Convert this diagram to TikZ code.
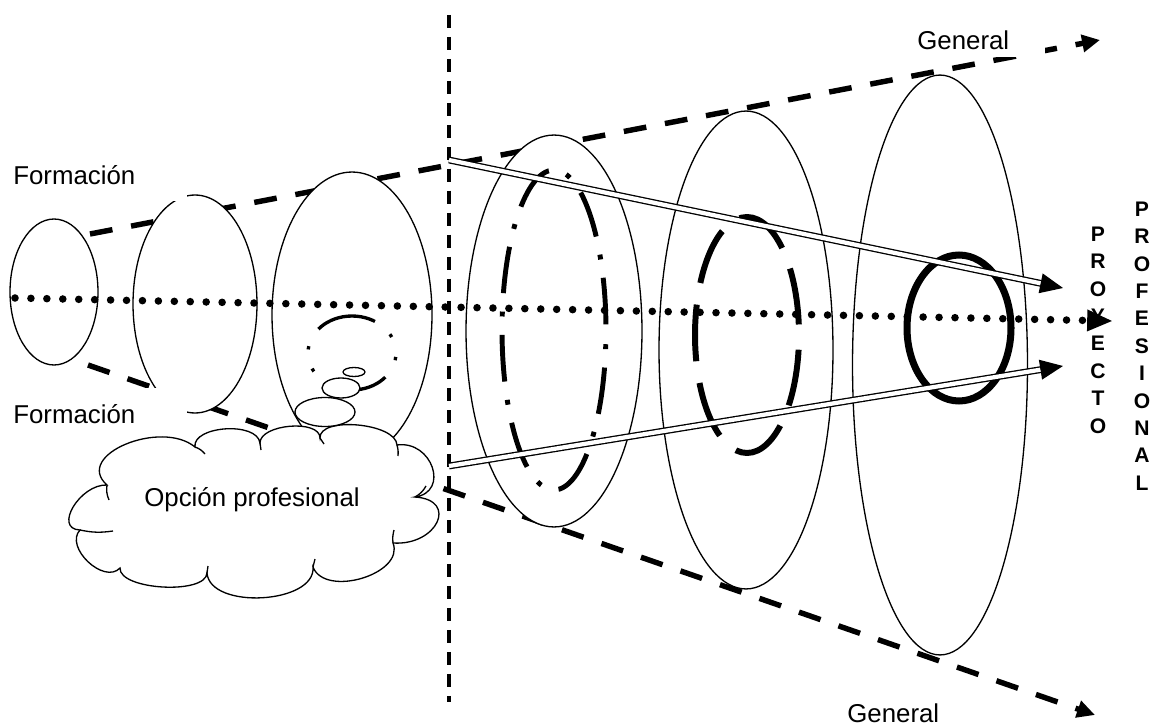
\documentclass[tikz,border=0pt]{standalone}
\usepackage{fontspec}
\setmainfont{Liberation Sans}
\usetikzlibrary{shapes.geometric,arrows.meta}
\begin{document}
\begin{tikzpicture}[x=0.02cm,y=-0.02cm,
  lbl/.style={font=\fontsize{14.7pt}{17pt}\selectfont},
  textbox/.style={lbl, fill=white, anchor=west, inner ysep=0pt, align=left},
  ring/.style={ellipse, draw, line width=0.75pt, fill=white, inner sep=0pt},
  bubble/.style={ellipse, draw, line width=0.75pt, fill=white, inner sep=0pt},
  thin/.style={line width=0.75pt},
  spine/.style={line width=1.9pt, dash pattern=on 7.4pt off 5.1pt},
  cone/.style={line width=3.1pt, dash pattern=on 13pt off 10.8pt,
    -{Triangle[length=10.2pt,width=9.6pt]}},
  axis/.style={line width=4.3pt, line cap=round, dash pattern=on 0pt off 9.07pt,
    -{Triangle[length=14.7pt,width=11.3pt]}},
  rail/.style={line width=0.75pt, double=white, double distance=2.4pt,
    -{Triangle[length=13pt,width=11.3pt]}},
  vword/.style={font=\fontsize{12pt}{15.6pt}\selectfont\bfseries, align=center, inner sep=0pt}
]
\useasboundingbox (0,0) rectangle (1153,726);

% reference points
\coordinate (vtop) at (449,15);
\coordinate (vbot) at (449,702);
\coordinate (cu0) at (90,234);
\coordinate (cu1) at (1100,40);
\coordinate (cl0) at (88,365);
\coordinate (cl1) at (1095,715);
\coordinate (d0) at (15,298);
\coordinate (d1) at (1113,321);
\coordinate (du0) at (449,160);
\coordinate (du1) at (1063,288);
\coordinate (dl0) at (449,466);
\coordinate (dl1) at (1063,366);

% vertical divider and the widening cone
\draw[spine] (vtop) -- (vbot);
\draw[cone] (cu0) -- (cu1);
\draw[cone] (cl0) -- (cl1);

% growing sections
\node[ring, minimum width=1.76cm, minimum height=2.92cm] (e1) at (54,292) {};
\node[ring, minimum width=2.48cm, minimum height=4.36cm] (e2) at (195,304) {};
\node[ring, minimum width=3.2cm, minimum height=5.72cm] (e3) at (352,315) {};
\node[ring, minimum width=3.52cm, minimum height=7.84cm] (e4) at (554,331) {};
\node[ring, minimum width=3.48cm, minimum height=9.56cm] (e5) at (746,350) {};
\node[ring, minimum width=3.5cm, minimum height=11.6cm] (e6) at (940,365) {};

% labels
\node[textbox, text width=3.22cm, inner xsep=0.26cm, minimum height=1.04cm] (f1) at (0,175) {Formación};
\node[textbox, text width=3.22cm, inner xsep=0.26cm, minimum height=1.04cm] (f2) at (0,414) {Formación};
\node[textbox, text width=2.32cm, inner xsep=0.24cm, minimum height=0.7cm] (g1) at (905,40) {General};
\node[textbox, text width=2.32cm, inner xsep=0.24cm, minimum height=0.7cm] (g2) at (835,713) {General};

% inner profiles
\node[ellipse, draw, line width=1.9pt, inner sep=0pt, minimum width=1.76cm, minimum height=1.48cm,
  dash pattern=on 34.6pt off 11.3pt on 1.9pt off 11.3pt on 1.9pt off 11.3pt, dash phase=49.6pt] (i3) at (352,353) {};
\node[ellipse, draw, line width=2.8pt, inner sep=0pt, minimum width=2.08cm, minimum height=6.4cm,
  dash pattern=on 26.6pt off 10.5pt on 2.8pt off 10.5pt, dash phase=47.2pt] (i4) at (554,330) {};
\node[ellipse, draw, line width=3.4pt, inner sep=0pt, minimum width=2.08cm, minimum height=4.72cm,
  dash pattern=on 32.3pt off 12.5pt, dash phase=38.8pt] (i5) at (747,335) {};
\node[ellipse, draw, line width=4pt, inner sep=0pt, minimum width=2.08cm, minimum height=2.92cm] (i6) at (959,328) {};

% thought cloud, puff by puff
\coordinate (j1) at (107,485);
\coordinate (j2) at (195,447);
\coordinate (j3) at (260,443);
\coordinate (j4) at (320,438);
\coordinate (j5) at (397,445);
\coordinate (j6) at (415,497);
\coordinate (j7) at (393,543);
\coordinate (j8) at (313,567);
\coordinate (j9) at (207,573);
\coordinate (j10) at (120,568);
\coordinate (j11) at (80,530);
\draw[thin, fill=white] (j1)
  .. controls (73,455) and (161,419) .. (j2)
  .. controls (192,426) and (257,421) .. (j3)
  .. controls (260,424) and (320,419) .. (j4)
  .. controls (319,416) and (396,423) .. (j5)
  .. controls (432,440) and (450,492) .. (j6)
  .. controls (459,500) and (437,546) .. (j7)
  .. controls (405,574) and (325,598) .. (j8)
  .. controls (316,604) and (210,610) .. (j9)
  .. controls (206,595) and (119,590) .. (j10)
  .. controls (104,585) and (64,547) .. (j11)
  .. controls (53,529) and (80,484) .. (j1) -- cycle;
% short puff seams inside the outline
\draw[thin] (j1) to[bend right=15] (109,500);
\draw[thin] (j2) to[bend left=15] (205,454);
\draw[thin] (j3) -- (261,450);
\draw[thin] (j4) to[bend left=10] (324,444);
\draw[thin] (j5) to[bend left=10] (398,456);
\draw[thin] (j6) to[bend right=15] (426,486);
\draw[thin] (j7) to[bend left=10] (394,530);
\draw[thin] (j8) -- (315,559);
\draw[thin] (j9) -- (208,566);
\draw[thin] (j11) to[bend right=10] (113,531);
\node[lbl] (opt) at (252,500) {Opción profesional};

% thought bubbles
\node[bubble, minimum width=1.2cm, minimum height=0.58cm] (b1) at (325,412) {};
\node[bubble, minimum width=0.76cm, minimum height=0.4cm] (b2) at (341,388) {};
\node[bubble, minimum width=0.44cm, minimum height=0.18cm] (b3) at (354,372) {};

% converging rails
\draw[rail] (du0) -- (du1);
\draw[rail] (dl0) -- (dl1);

% vertical words
\node[vword] (w1) at (1098,330) {P\\R\\O\\Y\\E\\C\\T\\O};
\node[vword] (w2) at (1142,346) {P\\R\\O\\F\\E\\S\\I\\O\\N\\A\\L};

% central axis
\draw[axis] (d0) -- (d1);
\end{tikzpicture}
\end{document}
